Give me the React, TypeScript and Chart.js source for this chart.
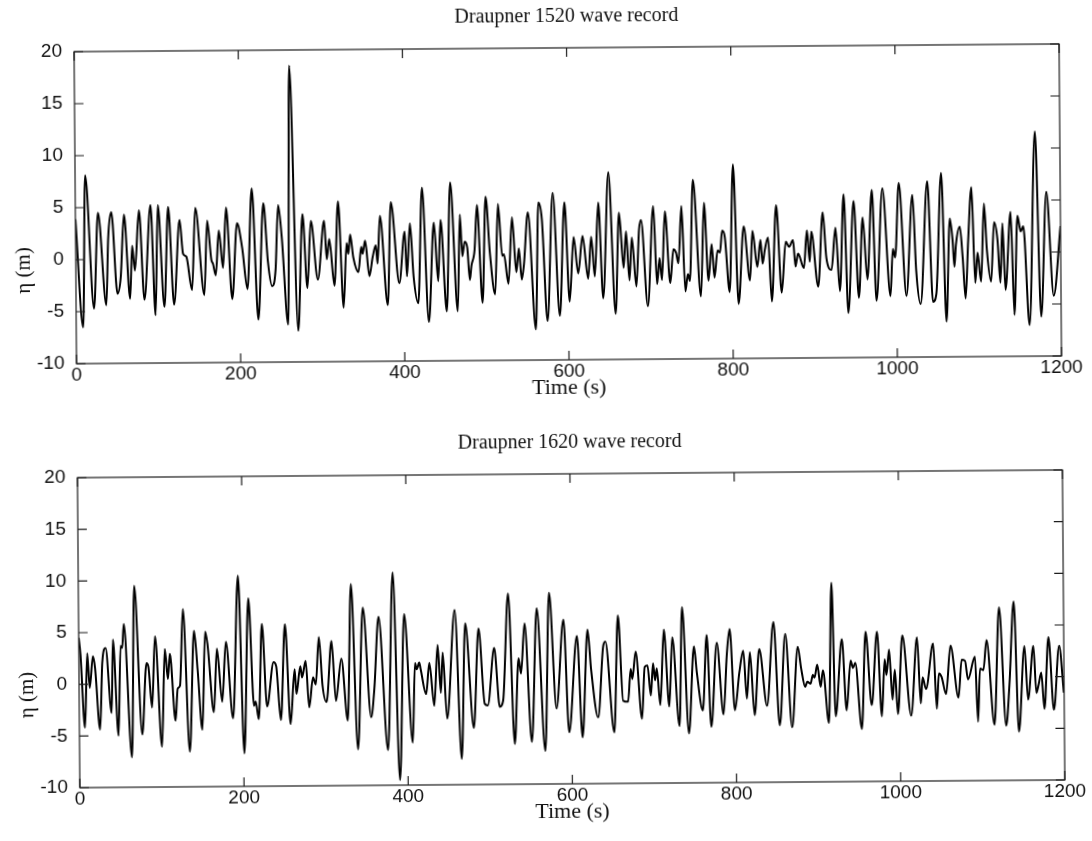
import React, { useEffect, useRef } from 'react';
import { Chart, registerables } from 'chart.js';

Chart.register(...registerables);

const SERIF = "'Liberation Serif', 'Times New Roman', serif";
const SANS = "'Liberation Sans', Arial, Helvetica, sans-serif";

const X_TICKS = [0, 200, 400, 600, 800, 1000, 1200];
const Y_TICKS = [-10, -5, 0, 5, 10, 15, 20];

const TITLE_1520 = 'Draupner 1520 wave record';
const TITLE_1620 = 'Draupner 1620 wave record';
const X_LABEL = 'Time (s)';
const Y_LABEL = 'η (m)';

// [time (s), surface elevation (m)] read from the record's crests and troughs
const RECORD_1520: [number, number][] = [
  [0, 3.9], [8.5, -6.5], [12.2, 8.1], [21.9, -4.7], [27.5, 4.5], [36.9, -4.4], [39.7, 2.0], [43.7, 4.55],
  [50.6, -3.3], [54.7, -1.7], [59.1, 4.3], [66.0, -3.8], [68.8, 1.3], [72.0, -1.1], [77.4, 4.7], [83.4, -3.9],
  [91.5, 5.2], [96.8, -5.4], [100.4, 5.2], [107.7, -4.6], [113.0, 5.0], [119.5, -4.4], [126.8, 3.75], [130.8, 0.5],
  [134.8, 0.2], [141.5, -3.0], [146.0, 4.9], [156.4, -3.5], [160.4, 3.65], [165.2, -0.1], [167.2, -0.5], [170.5, -1.6],
  [174.5, 2.7], [179.4, -0.9], [183.5, 4.9], [190.4, -3.9], [196.8, 3.4], [202.9, 1.0], [209.0, -2.95], [215.0, 6.7],
  [222.0, -5.9], [229.0, 5.3], [234.1, -0.3], [239.0, -2.7], [243.4, -1.1], [247.0, 5.1], [251.1, 2.1], [258.4, -6.4],
  [261.7, 18.5], [270.5, -7.0], [276.6, 4.2], [282.0, -2.9], [286.7, 3.55], [294.8, -2.1], [302.9, 3.55], [305.8, -0.15],
  [309.0, 1.8], [315.0, -2.7], [320.0, 5.4], [326.0, -4.8], [330.1, 1.4], [332.1, 0.35], [334.5, 2.2], [338.2, 0.0],
  [344.3, -1.4], [347.9, 1.0], [349.5, 0.35], [352.7, 1.6], [357.6, -1.8], [361.7, 0.0], [365.7, 1.15], [367.7, -0.6],
  [370.9, 4.0], [379.8, -4.6], [384.3, 5.3], [394.0, -2.5], [401.0, 2.45], [403.4, -1.85], [407.4, 3.25], [411.5, -1.9],
  [417.0, -4.45], [422.4, 6.65], [429.7, -6.25], [436.6, 3.3], [441.4, -2.35], [444.7, 3.55], [451.6, -5.25], [456.8, 7.15],
  [465.0, -5.25], [468.3, 4.05], [471.0, 0.05], [474.0, 1.45], [477.1, 0.85], [480.0, -2.25], [482.0, -0.9], [486.0, 0.65],
  [489.2, 4.95], [495.3, -4.45], [499.8, 5.75], [504.6, 0.35], [510.7, -3.65], [514.8, 5.05], [519.6, 0.05], [521.7, 0.2],
  [527.0, -2.65], [531.8, 3.75], [536.6, -1.55], [539.9, 0.75], [543.2, -2.25], [546.0, -0.8], [551.2, 4.2], [560.0, -7.05],
  [564.1, 5.15], [568.2, 3.55], [574.3, -6.25], [581.6, 6.05], [589.3, -5.75], [595.8, 5.15], [601.4, -4.4], [606.7, 1.8],
  [612.0, -1.7], [617.6, 1.9], [624.1, -2.2], [628.1, 1.8], [632.2, -2.0], [637.0, 5.1], [642.3, -4.1], [649.6, 8.0],
  [657.3, -5.6], [662.2, 4.1], [667.4, -1.2], [670.6, 2.3], [674.4, -2.4], [677.6, 1.7], [682.8, -3.0], [686.5, 2.45],
  [689.0, 3.4], [696.6, -4.9], [704.0, 4.7], [708.0, -2.8], [711.2, -0.3], [714.0, -2.4], [718.1, 4.2], [724.1, -2.7],
  [728.2, 0.55], [731.4, 0.2], [734.2, -0.8], [738.3, 4.7], [742.4, -3.5], [745.6, -1.85], [748.0, -2.5], [752.5, 7.2],
  [761.4, -4.0], [765.8, 5.0], [770.7, -2.5], [774.8, 1.0], [778.0, -2.2], [782.0, 0.4], [784.9, 0.2], [787.7, 2.3],
  [790.9, 1.7], [796.4, -3.6], [801.5, 8.65], [807.2, -4.75], [814.0, 2.7], [821.3, -2.5], [824.6, 2.25], [830.3, -1.2],
  [834.3, 1.4], [836.7, -0.9], [839.5, 0.4], [843.6, 1.6], [847.7, -4.55], [853.7, 4.7], [859.8, -3.7], [865.1, 1.2],
  [869.1, 0.7], [874.0, 1.35], [876.8, -1.2], [880.0, 0.05], [887.0, -1.35], [891.0, 2.25], [894.2, -0.75], [896.3, 2.15],
  [904.3, -3.15], [910.4, 4.0], [914.5, -0.4], [920.6, -1.55], [925.8, 2.5], [930.7, -3.6], [936.0, 5.7], [940.8, -5.7],
  [948.1, 5.05], [953.8, -4.25], [959.0, 3.45], [964.3, -2.5], [970.4, 6.1], [975.2, -4.55], [983.3, 6.25], [992.3, -4.1],
  [995.5, 0.4], [998.3, -0.4], [1003.3, 6.75], [1011.7, -4.1], [1019.8, 5.6], [1023.8, -1.65], [1029.0, -4.9], [1038.0, 6.9],
  [1044.0, -4.7], [1048.2, -3.9], [1055.0, 7.7], [1060.3, -6.6], [1065.2, 3.3], [1068.4, 1.2], [1070.4, -1.35], [1072.4, 0.75],
  [1077.3, 2.5], [1080.5, -0.4], [1083.8, -4.4], [1087.4, 1.2], [1091.8, 6.3], [1095.6, -2.9], [1098.7, 0.0], [1102.8, -2.8],
  [1106.9, 4.7], [1110.1, 0.25], [1115.0, -2.8], [1119.0, 2.9], [1123.1, 1.2], [1126.3, -2.9], [1129.2, 2.8], [1132.4, -3.6],
  [1139.3, 3.9], [1143.1, -6.0], [1147.6, 3.5], [1151.4, 2.0], [1154.6, 2.5], [1161.5, -7.0], [1169.6, 11.6], [1175.7, -6.2],
  [1183.0, 5.8], [1191.1, -4.2], [1200, 2.5],
];

const RECORD_1620: [number, number][] = [
  [0, 4.5], [2.0, 2.9], [6.9, -4.2], [10.2, 3.0], [13.0, -0.35], [17.1, 2.7], [19.6, 1.6], [25.3, -4.4],
  [28.5, 2.1], [32.6, 3.5], [39.5, -2.8], [41.6, 4.3], [47.7, -5.0], [50.9, 3.7], [52.9, 3.5], [55.0, 5.8],
  [63.9, -7.1], [68.0, 9.5], [76.6, -4.9], [82.3, 2.0], [84.7, 1.6], [88.8, -2.3], [92.9, 4.6], [100.6, -6.1],
  [104.7, 3.35], [108.3, 0.45], [110.8, 2.9], [117.3, -3.6], [120.1, -0.5], [123.0, -0.2], [127.1, 7.2], [134.4, -6.6],
  [140.5, 5.1], [144.6, 1.3], [149.9, -4.5], [154.0, 5.0], [156.8, 3.8], [164.1, -2.8], [168.2, 3.35], [174.3, -1.8],
  [179.2, 4.0], [187.4, -3.4], [194.5, 10.4], [200.8, -6.8], [206.9, 8.2], [213.0, -2.2], [215.0, -1.8], [218.7, -3.5],
  [223.2, 5.7], [228.9, -2.3], [237.1, 2.0], [240.3, 1.6], [245.6, -3.6], [251.3, 5.65], [257.4, -4.0], [262.7, 1.3],
  [264.8, -1.1], [269.7, 1.6], [271.7, 0.5], [276.2, 2.1], [280.2, -2.4], [285.1, 0.5], [288.4, -0.2], [292.5, 4.4],
  [296.6, -0.3], [301.4, -1.9], [307.9, 4.0], [312.8, -1.8], [319.7, 2.3], [327.1, -3.7], [332.0, 9.5], [339.3, -6.5],
  [346.3, 7.2], [355.6, -3.4], [359.7, -0.65], [365.4, 6.3], [375.9, -6.6], [383.0, 10.6], [390.2, -9.5], [396.6, 6.55],
  [406.1, -5.9], [409.4, 1.8], [411.4, 1.2], [414.6, 1.85], [416.3, 1.2], [422.8, -1.2], [426.9, 1.8], [432.6, -2.35],
  [437.1, 3.55], [440.7, -1.1], [443.2, 2.8], [448.2, -3.6], [458.2, 6.9], [465.6, -7.5], [470.9, 5.6], [480.6, -4.5],
  [487.1, 5.1], [494.1, -2.2], [497.8, -2.35], [506.0, 3.2], [512.4, -2.5], [516.5, -1.9], [523.4, 8.45], [530.4, -6.1],
  [535.6, 2.2], [538.5, 0.7], [543.2, 5.55], [551.2, -5.9], [558.2, 7.0], [567.5, -6.8], [573.3, 8.5], [581.5, -2.7],
  [590.6, 5.9], [596.7, -5.0], [606.9, 4.3], [613.0, -5.5], [619.9, 4.9], [624.0, 1.0], [632.2, -3.6], [638.7, 3.2],
  [641.5, 3.75], [651.7, -5.05], [657.0, 6.25], [662.7, -2.0], [668.7, -2.1], [672.1, 1.05], [674.1, 0.1], [678.3, 2.75],
  [685.6, -3.75], [689.2, 1.25], [692.6, 1.4], [696.5, -1.5], [699.4, 1.6], [701.8, -0.05], [703.9, 1.1], [708.0, -2.45],
  [712.8, 4.85], [718.9, -2.6], [723.0, 4.1], [731.2, -4.5], [735.2, 7.0], [742.6, -5.2], [749.4, 3.2], [752.8, 0.6],
  [759.7, -3.0], [765.0, 4.3], [769.9, -4.6], [777.2, 3.55], [784.9, -3.4], [789.4, 2.4], [793.0, 4.85], [798.8, -3.0],
  [804.5, 0.65], [809.4, 2.75], [813.5, -1.9], [817.5, 2.6], [822.8, -3.5], [828.9, 2.9], [838.0, -2.6], [846.4, 5.5],
  [853.3, -4.5], [860.7, 4.35], [868.4, -4.7], [875.8, 3.1], [879.8, 1.0], [884.7, -0.8], [887.2, -0.3], [891.2, -0.5],
  [894.0, 0.35], [896.1, 0.1], [899.4, 1.35], [903.5, -0.8], [906.3, 0.8], [913.3, -4.3], [917.4, 9.25], [921.5, -3.65],
  [929.6, 3.8], [934.9, -3.1], [940.1, 1.7], [943.0, 1.0], [945.8, 1.5], [953.3, -4.9], [958.6, 4.5], [965.5, -2.6],
  [972.5, 4.5], [977.8, -3.7], [981.6, 1.8], [983.7, 0.3], [987.1, 2.75], [990.9, -2.1], [993.9, 0.8], [997.4, -3.5],
  [1003.3, 4.1], [1013.5, -3.65], [1021.2, 3.9], [1025.3, -2.5], [1027.7, 0.05], [1031.8, -1.1], [1040.8, 3.3], [1044.8, -3.0],
  [1047.6, 0.4], [1050.9, 0.05], [1056.2, -1.6], [1061.9, 3.1], [1071.3, -1.95], [1075.4, 1.7], [1079.5, 1.6], [1083.0, -0.2],
  [1091.6, 2.0], [1094.9, -4.3], [1097.7, 0.85], [1101.8, 0.7], [1105.9, 3.6], [1114.9, -4.6], [1121.4, 6.75], [1129.1, -4.7],
  [1133.4, -0.8], [1139.3, 7.3], [1144.6, -5.3], [1152.0, 3.0], [1156.0, -2.2], [1162.9, 3.0], [1166.2, -1.55], [1169.0, -0.75],
  [1172.3, 0.4], [1175.9, -3.1], [1181.3, 3.85], [1187.4, -3.2], [1194.3, 3.0], [1199.6, -1.55],
];

const framePlugin = {
  id: 'matlabFrame',
  afterDatasetsDraw(chart: any, _args: any, opts: any) {
    const { ctx, chartArea: a, scales } = chart;
    ctx.save();
    ctx.strokeStyle = '#1c1c1c';
    ctx.lineWidth = 1.2;
    ctx.strokeRect(a.left, a.top, a.right - a.left, a.bottom - a.top);
    const len = 9;
    ctx.beginPath();
    for (const v of X_TICKS) {
      const x = scales.x.getPixelForValue(v);
      ctx.moveTo(x, a.bottom);
      ctx.lineTo(x, a.bottom - len);
      ctx.moveTo(x, a.top);
      ctx.lineTo(x, a.top + len);
    }
    for (const v of Y_TICKS) {
      const y = scales.y.getPixelForValue(v);
      ctx.moveTo(a.left, y);
      ctx.lineTo(a.left + len, y);
      ctx.moveTo(a.right, y);
      ctx.lineTo(a.right - len, y);
    }
    ctx.stroke();
    ctx.fillStyle = '#111';
    ctx.textAlign = 'center';
    ctx.textBaseline = 'middle';
    if (opts && opts.text) {
      ctx.font = `20px ${SERIF}`;
      ctx.fillText(opts.text, (a.left + a.right) / 2, opts.y);
    }
    if (opts && opts.yLabel) {
      ctx.save();
      ctx.translate(25, a.top + (a.bottom - a.top) * 0.7);
      ctx.rotate(-Math.PI / 2);
      ctx.font = `21px ${SERIF}`;
      ctx.fillText(opts.yLabel, 0, 0);
      ctx.restore();
    }
    ctx.restore();
  },
};

type PanelProps = {
  record: [number, number][];
  title: string;
  height: number;
  plotTop: number;
  plotBottom: number;
  titleY: number;
  xTitleBottomPad: number;
};

function Panel({ record, title, height, plotTop, plotBottom, titleY, xTitleBottomPad }: PanelProps) {
  const ref = useRef<HTMLCanvasElement | null>(null);
  useEffect(() => {
    if (!ref.current) return;
    const chart = new Chart(ref.current, {
      type: 'line',
      data: {
        datasets: [
          {
            data: record.map(([t, v]) => ({ x: t, y: v })),
            borderColor: '#000',
            borderWidth: 2,
            pointRadius: 0,
            fill: false,
            cubicInterpolationMode: 'monotone',
          },
        ],
      },
      options: {
        animation: false,
        responsive: false,
        maintainAspectRatio: false,
        events: [],
        layout: { padding: { left: 0, right: 30, top: plotTop, bottom: 0 } },
        plugins: {
          legend: { display: false },
          tooltip: { enabled: false },
          title: { display: false },
          matlabFrame: { text: title, y: titleY, yLabel: Y_LABEL },
        } as any,
        scales: {
          x: {
            type: 'linear',
            min: 0,
            max: 1200,
            afterBuildTicks: (s: any) => {
              s.ticks = X_TICKS.map((value) => ({ value }));
            },
            grid: { display: false, drawTicks: false, tickLength: 0 },
            border: { display: false },
            ticks: {
              color: '#111',
              font: { family: SANS, size: 19 },
              padding: 0,
              maxRotation: 0,
              autoSkip: false,
              callback: (v: any) => String(v),
            },
            title: {
              display: true,
              text: X_LABEL,
              color: '#111',
              font: { family: SERIF, size: 22 },
              padding: { top: 0, bottom: xTitleBottomPad },
            },
            afterFit: (s: any) => {
              s.height = height - plotBottom;
            },
          },
          y: {
            type: 'linear',
            min: -10,
            max: 20,
            afterBuildTicks: (s: any) => {
              s.ticks = Y_TICKS.map((value) => ({ value }));
            },
            grid: { display: false, drawTicks: false, tickLength: 0 },
            border: { display: false },
            ticks: {
              color: '#111',
              font: { family: SANS, size: 19 },
              padding: 12,
              autoSkip: false,
              callback: (v: any) => String(v),
            },
            title: { display: false },
            afterFit: (s: any) => {
              s.width = 77;
            },
          },
        },
      } as any,
      plugins: [framePlugin],
    });
    return () => chart.destroy();
  }, []);
  return <canvas ref={ref} width={1092} height={height} style={{ display: 'block', width: 1092, height }} />;
}

export default function App() {
  return (
    <div
      style={{
        position: 'fixed',
        left: 0,
        top: 0,
        width: 1092,
        height: 841,
        background: '#fff',
        overflow: 'hidden',
      }}
    >
      <div style={{ width: 1092, height: 841, transform: 'rotate(-0.45deg)', transformOrigin: '546px 420px' }}>
        <Panel record={RECORD_1520} title={TITLE_1520} height={420} plotTop={48} plotBottom={360} titleY={17} xTitleBottomPad={19} />
        <Panel record={RECORD_1620} title={TITLE_1620} height={421} plotTop={54} plotBottom={364} titleY={23} xTitleBottomPad={16} />
      </div>
    </div>
  );
}
